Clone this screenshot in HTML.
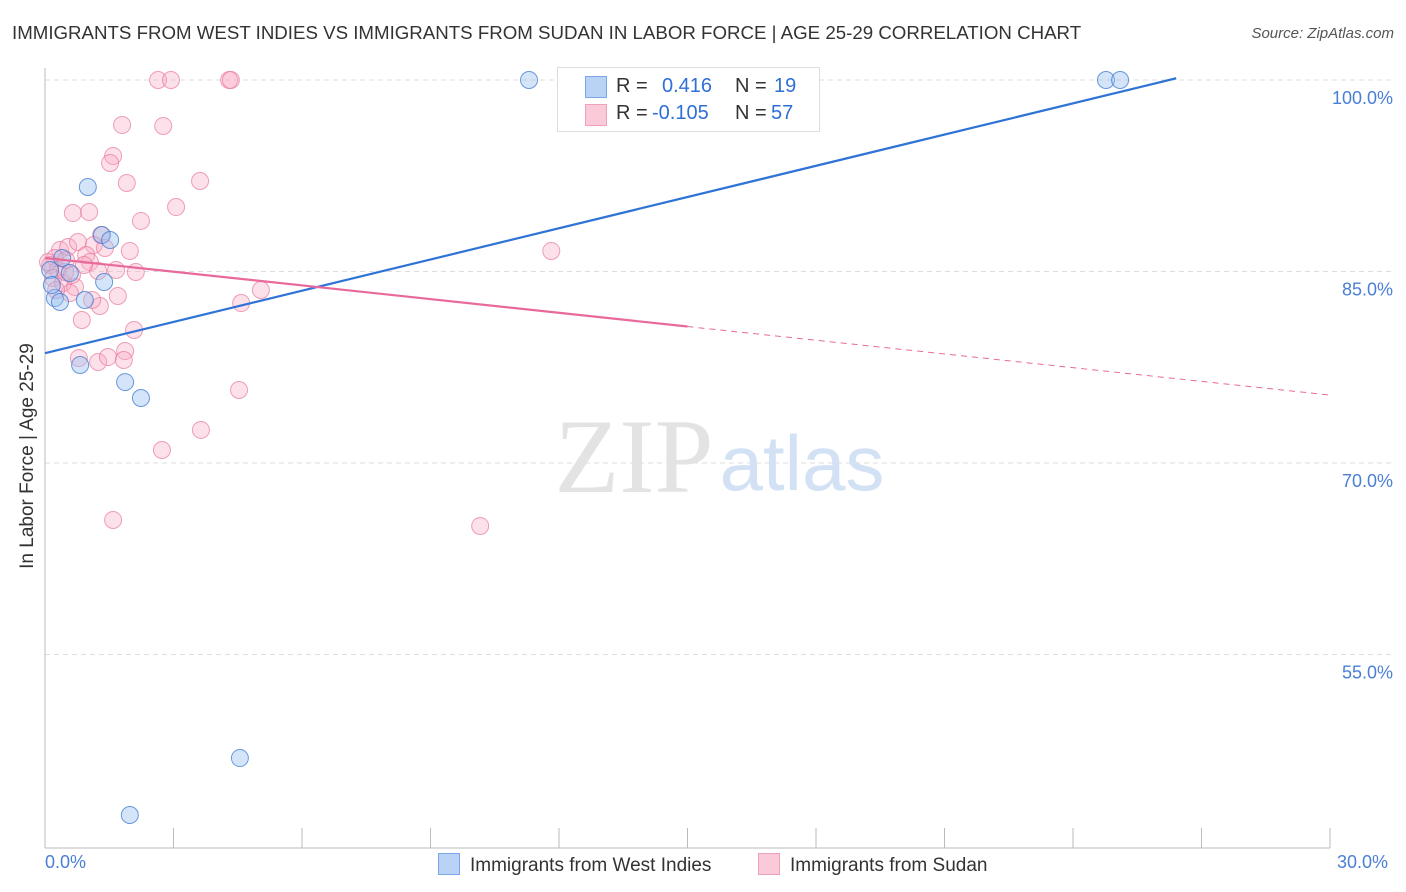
<!DOCTYPE html>
<html><head><meta charset="utf-8"><style>
body{margin:0;background:#fff;font-family:"Liberation Sans",Arial,sans-serif;}
#wrap{position:relative;width:1406px;height:892px;overflow:hidden;}
.t{position:absolute;white-space:nowrap;}
</style></head><body>
<div id="wrap">
<div class="t" style="left:12px;top:22px;font-size:18.7px;color:#333;">IMMIGRANTS FROM WEST INDIES VS IMMIGRANTS FROM SUDAN IN LABOR FORCE | AGE 25-29 CORRELATION CHART</div>
<div class="t" style="right:12px;top:25px;font-size:15px;color:#555;font-style:italic;">Source: ZipAtlas.com</div>
<svg id="svg" width="1406" height="892" style="position:absolute;left:0;top:0"></svg>
</div>
<script>
const blueX=[11.30,24.77,25.10,1.00,1.33,1.52,0.40,0.58,1.38,0.23,0.35,0.93,0.82,1.87,2.24,4.55,1.98,0.12,0.16];
const blueY=[100,100,100,91.62,87.86,87.47,86.06,84.88,84.18,82.92,82.61,82.77,77.68,76.34,75.09,46.89,42.43,85.12,83.94];
const pinkX=[2.64,2.94,4.30,4.34,1.80,2.76,1.59,1.52,1.91,3.62,3.06,0.65,1.03,2.24,1.31,1.98,11.82,0.35,0.54,0.77,1.14,1.40,0.96,1.05,0.23,0.12,0.30,0.19,0.42,0.70,1.66,2.12,1.24,1.70,1.28,1.10,0.58,0.86,4.58,5.04,2.08,1.87,0.79,1.24,1.47,1.84,4.53,3.64,2.73,1.59,10.16,0.47,0.07,0.26,0.49,0.63,0.91];
const pinkY=[100,100,100,100,96.48,96.40,94.05,93.50,91.93,92.09,90.05,89.58,89.66,88.96,87.86,86.61,86.61,86.68,86.92,87.31,87.08,86.84,86.29,85.74,86.06,85.51,85.12,84.49,84.10,83.79,85.12,84.96,85.04,83.08,82.30,82.77,83.32,81.20,82.53,83.55,80.42,78.77,78.22,77.91,78.30,78.07,75.72,72.59,71.02,65.54,65.07,84.96,85.74,83.55,85.90,84.73,85.51];
const blueLine=[78.6,0.8155]; // intercept, slope
const pinkLine=[86.06,-0.358];
const yTicks=[100,85,70,55];
const yTickLabels=["100.0%","85.0%","70.0%","55.0%"];
const xTicks=[0,3,6,9,12,15,18,21,24,27,30];

const X=v=>45+v*42.833, Y=v=>80+(100-v)*12.767;
const svg=document.getElementById('svg');
const NS='http://www.w3.org/2000/svg';
function mk(tag,attrs){const e=document.createElementNS(NS,tag);for(const k in attrs)e.setAttribute(k,attrs[k]);svg.appendChild(e);return e;}
yTicks.forEach((v,i)=>{
 const g=mk('line',{x1:45,x2:1392,y1:Y(v),y2:Y(v),stroke:'#ddd','stroke-dasharray':'5,4'});
 
 
 const t=mk('text',{x:1393,y:Y(v)+24,'text-anchor':'end','font-size':18,fill:'#4a7fd6','font-family':'Liberation Sans, sans-serif'});
 t.textContent=yTickLabels[i];
 
 
});
const ax=mk('line',{x1:45,x2:45,y1:68,y2:848,stroke:'#bbb'});


const bx=mk('line',{x1:45,x2:1330,y1:848,y2:848,stroke:'#bbb'});


xTicks.forEach(v=>{const l=mk('line',{x1:X(v),x2:X(v),y1:828,y2:848,stroke:'#bbb'});
 
 });
// watermark
const w1=mk('text',{x:634,y:492,'text-anchor':'middle','font-size':106,fill:'#e3e3e3','font-family':'Liberation Serif, serif'});w1.textContent='ZIP';


const w2=mk('text',{x:802,y:490,'text-anchor':'middle','font-size':78,fill:'#d3e1f4','font-family':'Liberation Sans, sans-serif'});w2.textContent='atlas';


// points
pinkX.forEach((x,i)=>{const c=mk('circle',{cx:X(x),cy:Y(pinkY[i]),r:8.5,fill:'rgba(248,170,195,0.35)',stroke:'rgba(232,120,155,0.7)','stroke-width':1});
 
 });
blueX.forEach((x,i)=>{const c=mk('circle',{cx:X(x),cy:Y(blueY[i]),r:8.5,fill:'rgba(150,190,240,0.4)',stroke:'rgba(60,120,210,0.75)','stroke-width':1});
 
 });
// trend lines
const bl=mk('line',{x1:X(0),y1:Y(blueLine[0]),x2:X(26.41),y2:Y(blueLine[0]+blueLine[1]*26.41),stroke:'#2f73d6','stroke-width':2.2});


const pl=mk('line',{x1:X(0),y1:Y(pinkLine[0]),x2:X(15),y2:Y(pinkLine[0]+pinkLine[1]*15),stroke:'#e8699a','stroke-width':2.2});


const pd=mk('line',{x1:X(15),y1:Y(pinkLine[0]+pinkLine[1]*15),x2:X(30),y2:Y(pinkLine[0]+pinkLine[1]*30),stroke:'#e8699a','stroke-width':1,'stroke-dasharray':'6,5'});


</script>
<div class="t" style="left:-90px;top:445px;font-size:19px;color:#333;transform:rotate(-90deg);width:236px;text-align:center;">In Labor Force | Age 25-29</div>
<div class="t" style="left:45px;top:852px;font-size:18px;color:#4a7fd6;">0.0%</div>
<div class="t" style="left:1337px;top:852px;font-size:18px;color:#4a7fd6;">30.0%</div>
<div style="position:absolute;left:557px;top:67px;width:261px;height:63px;border:1px solid #ddd;background:#fff;font-size:20px;">
 <div style="position:absolute;left:27px;top:8px;width:20px;height:20px;background:#b9d3f7;border:1px solid #7ba7e8;"></div>
 <div class="t" style="left:58px;top:7px;color:#333;">R =</div>
 <div class="t" style="left:104px;top:7px;color:#2f6fd6;">0.416</div>
 <div class="t" style="left:177px;top:7px;color:#333;">N =</div>
 <div class="t" style="left:216px;top:7px;color:#2f6fd6;">19</div>
 <div style="position:absolute;left:27px;top:36px;width:20px;height:20px;background:#fbcad9;border:1px solid #f0a0bb;"></div>
 <div class="t" style="left:58px;top:34px;color:#333;">R =</div>
 <div class="t" style="left:94px;top:34px;color:#2f6fd6;">-0.105</div>
 <div class="t" style="left:177px;top:34px;color:#333;">N =</div>
 <div class="t" style="left:213px;top:34px;color:#2f6fd6;">57</div>
</div>
<div style="position:absolute;left:438px;top:853px;font-size:19px;color:#333;">
 <span style="display:inline-block;width:20px;height:20px;background:#b9d3f7;border:1px solid #7ba7e8;vertical-align:-4px;margin-right:10px;"></span>Immigrants from West Indies</div>
<div style="position:absolute;left:758px;top:853px;font-size:19px;color:#333;">
 <span style="display:inline-block;width:20px;height:20px;background:#fbcad9;border:1px solid #f0a0bb;vertical-align:-4px;margin-right:10px;"></span>Immigrants from Sudan</div>
</body></html>
